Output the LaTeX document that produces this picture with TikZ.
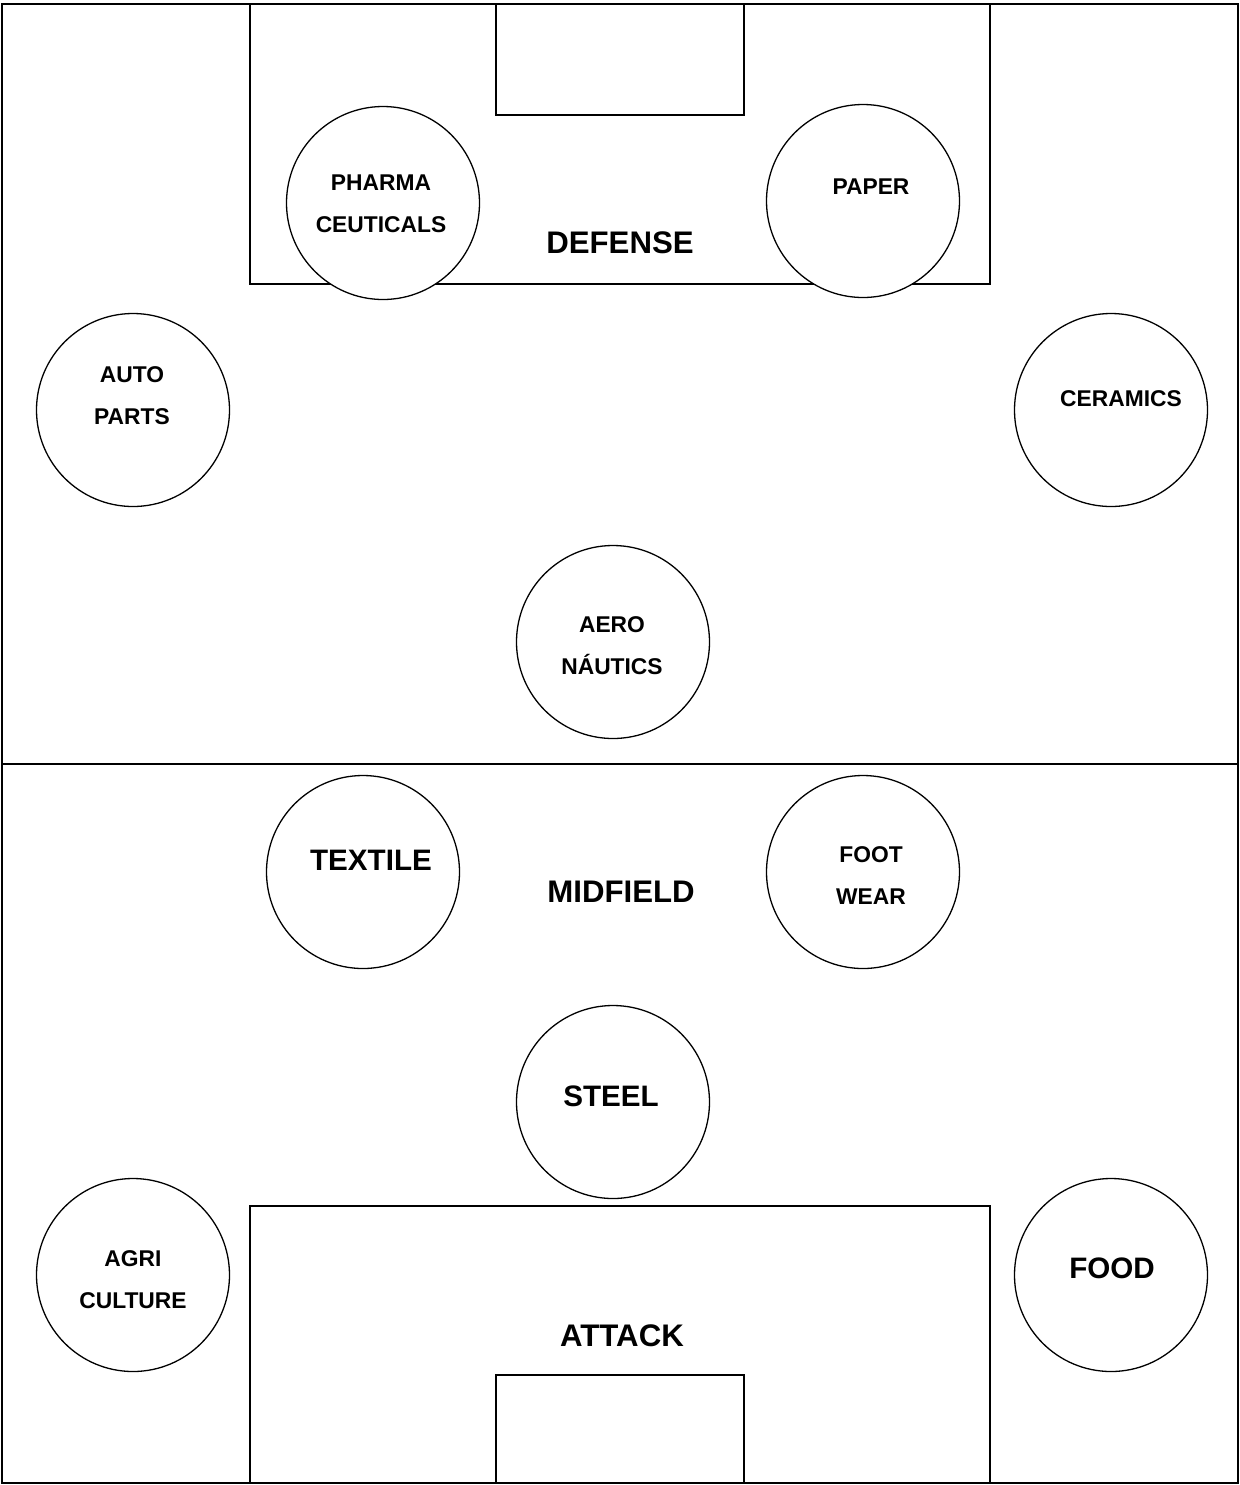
\documentclass[tikz,border=0pt]{standalone}
\usepackage{fontspec}
\setmainfont{Liberation Sans}
\begin{document}
\begin{tikzpicture}[
    x=0.5pt, y=-0.5pt,
    pitch/.style={draw=black, line width=1pt},
    sector/.style={circle, draw=black, fill=white, line width=0.65pt, minimum size=96.5pt, inner sep=0pt},
    smalltag/.style={align=center, inner sep=0pt, font=\fontsize{11.4}{21}\selectfont\bfseries},
    bigtag/.style={align=center, inner sep=0pt, font=\fontsize{14.8}{21}\selectfont\bfseries},
    zonetag/.style={inner sep=0pt, font=\fontsize{15.6}{21}\selectfont\bfseries}
  ]
  \useasboundingbox (0,0) rectangle (1240,1485);

  \draw[pitch] (2,4) rectangle (1238,1483);
  \draw[pitch] (2,764) -- (1238,764);
  \draw[pitch] (250,4) rectangle (990,284);
  \draw[pitch] (496,4) rectangle (744,115);
  \draw[pitch] (250,1206) rectangle (990,1483);
  \draw[pitch] (496,1375) rectangle (744,1483);

  \node[zonetag] (defense) at (620,243) {DEFENSE};
  \node[zonetag] (midfield) at (621,892) {MIDFIELD};
  \node[zonetag] (attack) at (622,1336) {ATTACK};

  \node[sector] (pharma) at (383,203) {};
  \node[sector] (paper) at (863,201) {};
  \node[sector] (auto) at (133,410) {};
  \node[sector] (ceramics) at (1111,410) {};
  \node[sector] (aero) at (613,642) {};
  \node[sector] (textile) at (363,872) {};
  \node[sector] (footwear) at (863,872) {};
  \node[sector] (steel) at (613,1102) {};
  \node[sector] (agri) at (133,1275) {};
  \node[sector] (food) at (1111,1275) {};

  \node[smalltag] (pharma-t) at (381,204) {PHARMA\\CEUTICALS};
  \node[smalltag] (paper-t) at (871,187) {PAPER};
  \node[smalltag] (auto-t) at (132,396) {AUTO\\PARTS};
  \node[smalltag] (ceramics-t) at (1121,399) {CERAMICS};
  \node[smalltag] (aero-t) at (612,646) {AERO\\NÁUTICS};
  \node[bigtag] (textile-t) at (371,860) {TEXTILE};
  \node[smalltag] (footwear-t) at (871,876) {FOOT\\WEAR};
  \node[bigtag] (steel-t) at (611,1096) {STEEL};
  \node[smalltag] (agri-t) at (133,1280) {AGRI\\CULTURE};
  \node[bigtag] (food-t) at (1112,1268) {FOOD};
\end{tikzpicture}
\end{document}
